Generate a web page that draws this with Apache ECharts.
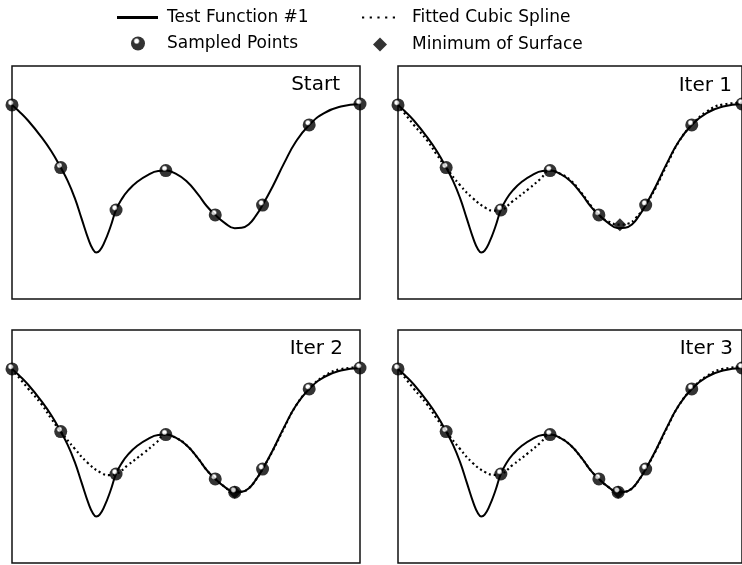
<!DOCTYPE html>
<html>
<head>
<meta charset="utf-8">
<script src="https://cdn.jsdelivr.net/npm/echarts@6/dist/echarts.min.js"></script>
<style>
html,body{margin:0;padding:0;background:#fff;}
#c{width:742px;height:565px;}
</style>
</head>
<body>
<div id="c"></div>
<script>
// ---- data (x and y in 0..100 panel units) ----
const panelTitles = ['Start', 'Iter 1', 'Iter 2', 'Iter 3'];

const funcX = [0, 2.0, 4.6, 8.4, 11.3, 14.0, 16.0, 18.0, 20.0, 22.0, 23.2, 24.2, 25.2, 26.6, 28.3, 29.9, 31.5, 33.5, 36.0, 39.0, 42.0, 44.2, 47.0, 50.1, 53.4, 56.0, 58.4, 61.0, 64.0, 66.0, 68.0, 70.1, 72.0, 74.9, 78.2, 81.6, 85.4, 89.7, 94.5, 100];
const funcY = [83.3, 80.6, 76.6, 69.6, 63.4, 56.4, 50.7, 43.5, 34.5, 25.5, 21.5, 20.0, 20.8, 24.5, 31.0, 38.2, 42.8, 46.8, 50.3, 53.2, 54.9, 55.1, 53.8, 50.6, 45.0, 39.8, 36.1, 32.8, 30.4, 30.6, 32.0, 35.8, 40.3, 48.3, 58.3, 67.6, 74.7, 79.8, 82.6, 83.7];

const sampleX = [0, 14.0, 29.9, 44.2, 58.4, 72.0, 85.4, 100];
const sampleY = [83.3, 56.4, 38.2, 55.1, 36.1, 40.3, 74.7, 83.7];

const addedX = [64.0];
const addedY = [30.4];

const spline1X = [0, 4.6, 8.4, 11.3, 14.0, 18.0, 21.8, 25.6, 28.0, 29.9, 33.2, 38.0, 41.4, 44.2, 47.0, 50.1, 53.4, 56.0, 58.4, 61.0, 64.4, 67.0, 69.0, 72.0, 74.9, 78.2, 81.6, 85.4, 89.7, 94.5, 100];
const spline1Y = [83.3, 74.7, 68.2, 61.9, 56.4, 48.9, 43.2, 39.0, 37.9, 38.2, 41.8, 47.3, 51.5, 55.1, 53.9, 51.0, 45.4, 40.2, 36.1, 33.4, 31.9, 32.4, 34.6, 40.3, 47.8, 57.7, 67.4, 74.7, 80.4, 83.5, 84.2];

const spline2X = [0, 4.6, 8.4, 11.3, 14.0, 18.0, 21.8, 25.6, 28.0, 29.9, 33.2, 38.0, 41.4, 44.2, 47.0, 50.1, 53.4, 56.0, 58.4, 61.0, 64.0, 66.0, 68.0, 70.1, 72.0, 74.9, 78.2, 81.6, 85.4, 89.7, 94.5, 100];
const spline2Y = [83.3, 74.9, 68.3, 61.9, 56.4, 49.1, 42.9, 38.7, 37.7, 38.2, 41.9, 47.4, 51.6, 55.1, 53.8, 50.6, 45.0, 39.8, 36.1, 32.8, 30.4, 30.6, 32.0, 35.8, 40.3, 48.1, 58.0, 67.5, 74.7, 80.2, 83.2, 84.0];

const spline3X = spline2X;
const spline3Y = [83.3, 74.8, 68.2, 61.9, 56.4, 49.0, 42.8, 38.8, 37.8, 38.2, 41.9, 47.4, 51.6, 55.1, 53.8, 50.6, 45.0, 39.8, 36.1, 32.8, 30.4, 30.6, 32.0, 35.8, 40.3, 48.1, 58.0, 67.5, 74.7, 80.2, 83.3, 84.1];

const minX = [null, 64.5, 64.0, 64.0];
const minY = [null, 31.9, 30.4, 30.4];

// ---- build ----
const pairs = (xs, ys) => xs.map((x, i) => [x, ys[i]]);
const chart = echarts.init(document.getElementById('c'), null, {renderer: 'canvas'});

const gridPos = [
  {left: 12, top: 66},
  {left: 398, top: 66},
  {left: 12, top: 330},
  {left: 398, top: 330}
];
const titlePos = [
  {right: 402, top: 75},
  {right: 10, top: 76},
  {right: 399, top: 339},
  {right: 9, top: 339}
];

const sphere = new echarts.graphic.RadialGradient(0.4, 0.33, 0.62, [
  {offset: 0, color: '#ffffff'},
  {offset: 0.2, color: '#ffffff'},
  {offset: 0.38, color: '#000000'},
  {offset: 1, color: '#000000'}
]);

const splines = [null, pairs(spline1X, spline1Y), pairs(spline2X, spline2Y), pairs(spline3X, spline3Y)];
const samples = [
  pairs(sampleX, sampleY),
  pairs(sampleX, sampleY),
  pairs(sampleX.concat(addedX), sampleY.concat(addedY)),
  pairs(sampleX.concat(addedX), sampleY.concat(addedY))
];

const grids = [], xAxes = [], yAxes = [], titles = [], series = [];
for (let i = 0; i < 4; i++) {
  grids.push({left: gridPos[i].left, top: gridPos[i].top, width: 348, height: 233,
    show: true, borderColor: '#111', borderWidth: 1.5, backgroundColor: 'transparent', containLabel: false});
  xAxes.push({type: 'value', gridIndex: i, min: 0, max: 100, show: false});
  yAxes.push({type: 'value', gridIndex: i, min: 0, max: 100, show: false});
  titles.push({text: panelTitles[i], right: titlePos[i].right, top: titlePos[i].top, padding: 0,
    textStyle: {fontFamily: 'DejaVu Sans', fontSize: 20, fontWeight: 'normal', color: '#000'}});
  series.push({
    name: 'Test Function #1', type: 'line', xAxisIndex: i, yAxisIndex: i,
    data: pairs(funcX, funcY), smooth: 0.5, showSymbol: false, symbol: 'none',
    lineStyle: {color: '#000', width: 2}, z: 2, silent: true
  });
  if (i > 0) {
    series.push({
      name: 'Fitted Cubic Spline', type: 'line', xAxisIndex: i, yAxisIndex: i,
      data: splines[i], smooth: 0.5, showSymbol: false, symbol: 'none',
      lineStyle: {color: '#000', width: 2.2, type: [2, 3]}, z: 2, silent: true
    });
    series.push({
      name: 'Minimum of Surface', type: 'scatter', xAxisIndex: i, yAxisIndex: i,
      data: [[minX[i], minY[i]]], symbol: 'diamond', symbolSize: 13, clip: false,
      itemStyle: {color: '#000'}, z: 3, silent: true
    });
  }
  series.push({
    name: 'Sampled Points', type: 'scatter', xAxisIndex: i, yAxisIndex: i,
    data: samples[i], symbol: 'circle', symbolSize: 13, clip: false,
    itemStyle: {color: sphere}, z: 4, silent: true
  });
}

const legText = {fontFamily: 'DejaVu Sans', fontSize: 17, color: '#000'};
const legends = [
  {left: 117, top: 9, padding: 0, itemWidth: 41, itemHeight: 3, selectedMode: false,
    textStyle: Object.assign({padding: [0, 0, 0, 4]}, legText),
    data: [{name: 'Test Function #1', icon: 'rect', itemStyle: {color: '#000'}}]},
  {left: 131, top: 35, padding: 0, itemWidth: 14, itemHeight: 14, selectedMode: false,
    textStyle: Object.assign({padding: [0, 0, 0, 17]}, legText),
    data: [{name: 'Sampled Points', icon: 'circle', itemStyle: {color: sphere}}]},
  {left: 362, top: 9, padding: 0, itemWidth: 33, itemHeight: 3, selectedMode: false,
    textStyle: Object.assign({padding: [0, 0, 0, 12]}, legText),
    data: [{name: 'Fitted Cubic Spline',
      icon: 'path://M0,0h2v2h-2zM7,0h2v2h-2zM14,0h2v2h-2zM21,0h2v2h-2zM28,0h2v2h-2z',
      itemStyle: {color: '#000'}}]},
  {left: 373, top: 36, padding: 0, itemWidth: 14, itemHeight: 14, selectedMode: false,
    textStyle: Object.assign({padding: [0, 0, 0, 20]}, legText),
    data: [{name: 'Minimum of Surface', icon: 'diamond', itemStyle: {color: '#000'}}]}
];

chart.setOption({
  animation: false,
  backgroundColor: '#fff',
  title: titles,
  legend: legends,
  grid: grids,
  xAxis: xAxes,
  yAxis: yAxes,
  series: series
});
</script>
</body>
</html>
